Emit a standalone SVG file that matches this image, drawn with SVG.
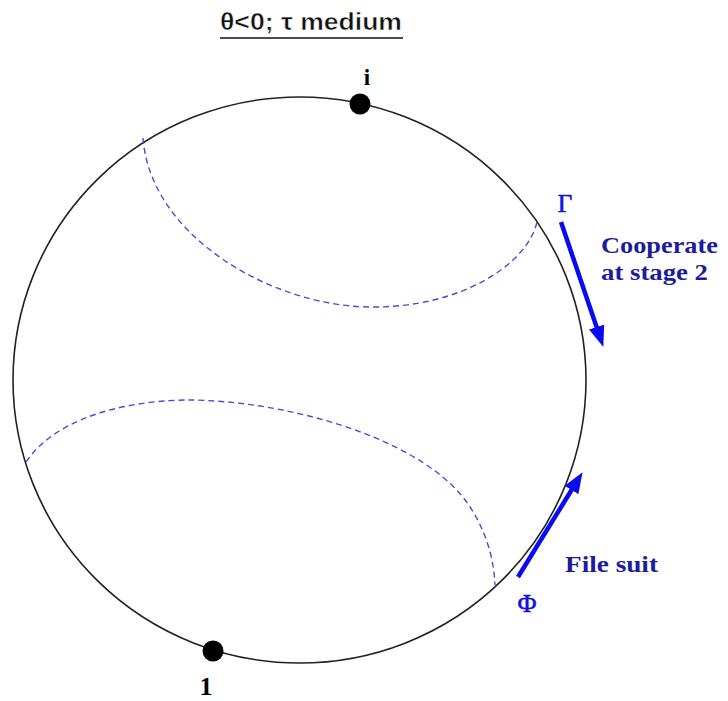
<svg xmlns="http://www.w3.org/2000/svg" width="728" height="701" viewBox="0 0 728 701">
<style>
.dash{fill:none;stroke:#4b4bd8;stroke-width:1.4;stroke-dasharray:6,4}
.arr{stroke:#0a0af0;stroke-width:4.5;fill:none}
.lbl{font-family:"Liberation Serif","Times New Roman",serif;font-weight:bold;fill:#1c1ca0}
.greek{font-family:"Liberation Serif","Times New Roman",serif;fill:#1010e0;stroke:#1010e0;stroke-width:0.6}
.node{font-family:"Liberation Serif","Times New Roman",serif;font-weight:bold;fill:#000}
</style>
<defs>
<marker id="ah" markerUnits="userSpaceOnUse" markerWidth="22" markerHeight="16" refX="10" refY="8" orient="auto">
<path d="M0,0 L21,8 L0,16 z" fill="#0a0af0"/>
</marker>
</defs>
<rect width="728" height="701" fill="#fff"/>
<g id="title">
<text x="220" y="30" font-family="Liberation Sans,Arial,sans-serif" font-size="24" font-weight="bold" textLength="182" lengthAdjust="spacingAndGlyphs" fill="#111" stroke="#fff" stroke-width="0.5">θ&lt;0; τ medium</text>
<line x1="220" y1="38" x2="403" y2="38" stroke="#111" stroke-width="1.6"/>
</g>
<g id="circle">
<ellipse cx="299.5" cy="380" rx="286.5" ry="283" fill="none" stroke="#222" stroke-width="1.6"/>
</g>
<g id="connectors">
<path class="dash" d="M143,138 C150,235 270,306 370,307 C460,308 527,265 537,222"/>
<path class="dash" d="M26,462 C60,412 140,400 190,400 C290,401 430,440 472,510 C490,540 494,565 495,585"/>
<line class="arr" x1="561" y1="222" x2="599.8" y2="336.5" marker-end="url(#ah)"/>
<line class="arr" x1="518" y1="577" x2="576.8" y2="481.5" marker-end="url(#ah)"/>
</g>
<g id="node-i">
<circle cx="360" cy="104" r="10.5" fill="#000"/>
<text class="node" x="367" y="85" font-size="23" text-anchor="middle">i</text>
</g>
<g id="node-1">
<circle cx="213" cy="651" r="10.5" fill="#000"/>
<text class="node" x="206" y="695" font-size="26" text-anchor="middle">1</text>
</g>
<g id="gamma">
<text class="greek" x="565" y="212" font-size="25" text-anchor="middle">Γ</text>
<text class="lbl" x="601" y="253" font-size="24" textLength="117" lengthAdjust="spacingAndGlyphs">Cooperate</text>
<text class="lbl" x="601" y="280" font-size="24" textLength="107" lengthAdjust="spacingAndGlyphs">at stage 2</text>
</g>
<g id="phi">
<text class="greek" x="527" y="612" font-size="26" text-anchor="middle">Φ</text>
<text class="lbl" x="565" y="572" font-size="24" textLength="93" lengthAdjust="spacingAndGlyphs">File suit</text>
</g>
</svg>
